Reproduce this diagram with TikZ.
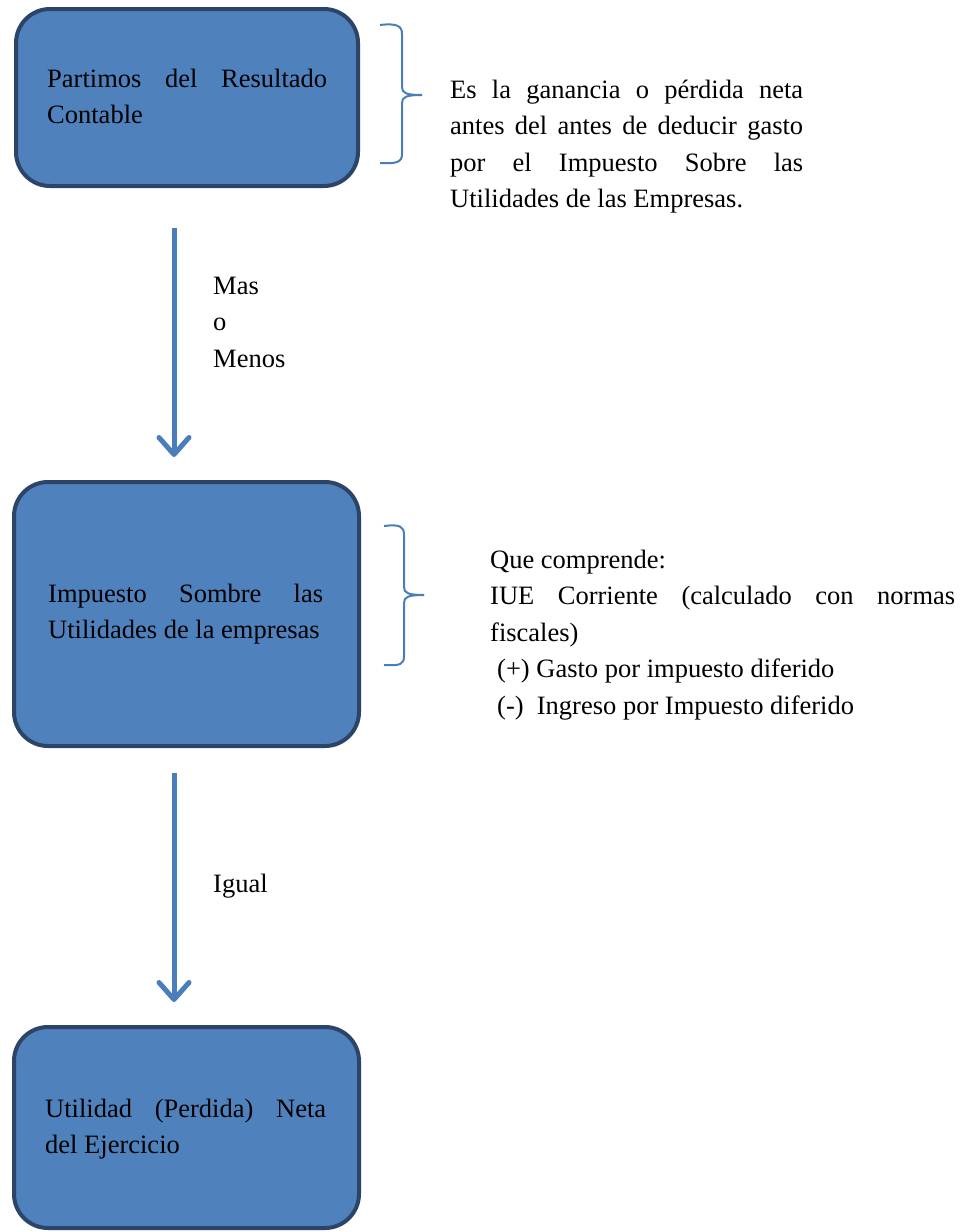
\documentclass[tikz,border=0pt]{standalone}
\usepackage{fontspec}
\setmainfont{Liberation Serif}
\usetikzlibrary{arrows.meta}
\definecolor{boxfill}{HTML}{4F81BD}
\definecolor{boxline}{HTML}{2B4467}
\definecolor{arrowblue}{HTML}{4A7EBB}
\tikzset{
  flowbox/.style={draw=boxline, fill=boxfill, line width=4pt, rounded corners=34pt, inner sep=0pt},
  txt/.style={anchor=base west, inner sep=0pt, font=\fontsize{26.5}{36.5}\selectfont},
  flowarrow/.style={draw=arrowblue, line width=5pt, -{Straight Barb[length=17pt,width=30pt,round]}},
  bracepath/.style={draw=arrowblue, line width=2pt}
}
\begin{document}
\begin{tikzpicture}[x=1pt,y=-1pt]
\useasboundingbox (0,0) rectangle (965,1232);
% boxes
\node[flowbox, minimum width=342pt, minimum height=177pt] (b1) at (187,97.5) {};
\node[flowbox, minimum width=345pt, minimum height=264pt] (b2) at (186.5,614) {};
\node[flowbox, minimum width=345pt, minimum height=201pt] (b3) at (186.5,1127.5) {};
% box texts
\node[txt] (t1) at (47,87) {\parbox[t]{280pt}{\makebox[280pt][s]{Partimos del Resultado}\\Contable}};
\node[txt] (t2) at (48,602) {\parbox[t]{280pt}{\makebox[275pt][s]{Impuesto Sombre las}\\Utilidades de la empresas}};
\node[txt] (t3) at (45,1117) {\parbox[t]{285pt}{\makebox[281pt][s]{Utilidad (Perdida) Neta}\\del Ejercicio}};
% arrows
\coordinate (a1s) at (174,228);
\coordinate (a1e) at (174,457);
\coordinate (a2s) at (174,773);
\coordinate (a2e) at (174,1002);
\draw[flowarrow] (a1s) -- (a1e);
\draw[flowarrow] (a2s) -- (a2e);
% arrow labels
\node[txt] (l1) at (213,294) {\parbox[t]{120pt}{Mas\\o\\Menos}};
\node[txt] (l2) at (213,892) {Igual};
% braces
\draw[bracepath] (380,25) .. controls (397,23) and (402,26) .. (402,34) -- (402,87)
  .. controls (402,93) and (406,95) .. (422,95);
\draw[bracepath] (422,95) .. controls (406,95) and (402,97) .. (402,103) -- (402,154)
  .. controls (402,162) and (397,164) .. (380,163);
\draw[bracepath] (384,526) .. controls (401,524) and (404,527) .. (404,535) -- (404,587)
  .. controls (404,593) and (408,595) .. (424,595);
\draw[bracepath] (424,595) .. controls (408,595) and (404,597) .. (404,603) -- (404,656)
  .. controls (404,664) and (401,666) .. (384,665);
% side texts
\node[txt] (s1) at (450,98) {\parbox[t]{360pt}{\makebox[353pt][s]{Es la ganancia o pérdida neta}\\\makebox[353pt][s]{antes del antes de deducir gasto}\\\makebox[353pt][s]{por el Impuesto Sobre las}\\Utilidades de las Empresas.}};
\node[txt] (s2) at (490,568) {\parbox[t]{470pt}{Que comprende:\\\makebox[465pt][s]{IUE Corriente (calculado con normas}\\fiscales)\\\hspace*{7pt}(+) Gasto por impuesto diferido\\\hspace*{7pt}(-)\ \ Ingreso por Impuesto diferido}};
\end{tikzpicture}
\end{document}
